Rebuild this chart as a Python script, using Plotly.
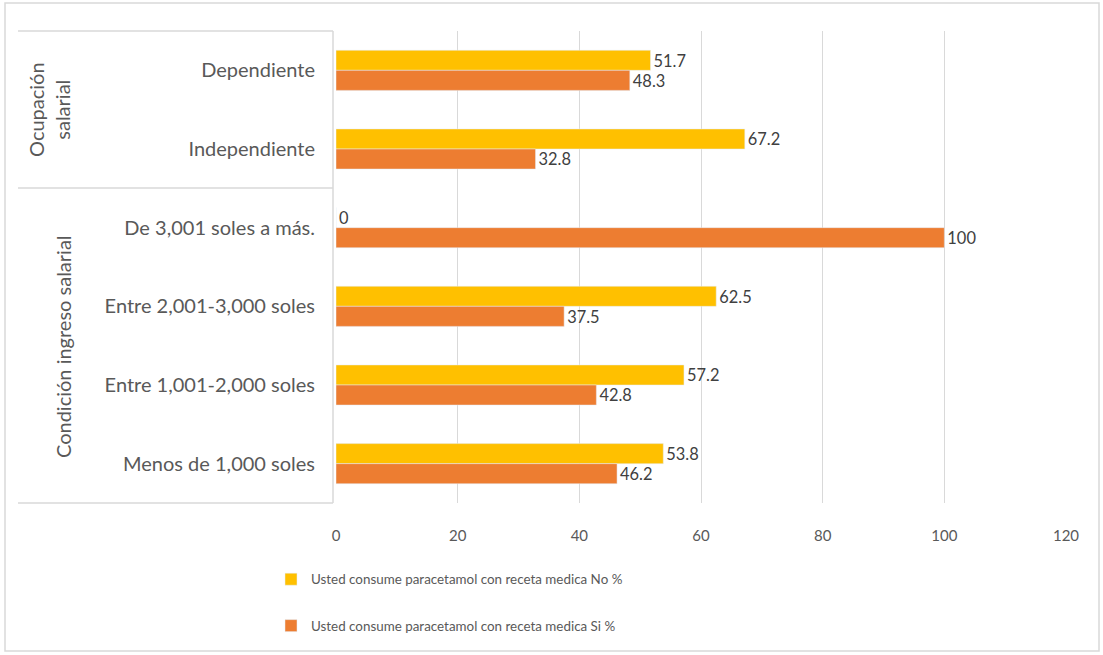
import plotly.graph_objects as go

categories = ["Dependiente", "Independiente", "De 3,001 soles a más.",
              "Entre 2,001-3,000 soles", "Entre 1,001-2,000 soles", "Menos de 1,000 soles"]
no_values = [51.7, 67.2, 0, 62.5, 57.2, 53.8]
si_values = [48.3, 32.8, 100, 37.5, 42.8, 46.2]
series_names = ["Usted consume paracetamol con receta medica No %",
                "Usted consume paracetamol con receta medica Si %"]
group_labels = ["Ocupación<br>salarial", "Condición ingreso salarial"]
x_ticks = [0, 20, 40, 60, 80, 100, 120]

W, H = 1103, 655
L, R, T, B = 336, 37, 31, 152
pw, ph = W - L - R, H - T - B

def px(x):
    return (x - L) / pw

def py(y):
    return (H - B - y) / ph

FONT = "Lato"
GRID = "#D9D9D9"
TXT = "#595959"

fig = go.Figure()
fig.add_trace(go.Bar(y=categories, x=no_values, orientation="h", name=series_names[0],
                     marker_color="#FFC000", text=no_values, texttemplate="%{x}",
                     textposition="outside", cliponaxis=False,
                     textfont=dict(size=18, color="#404040", family=FONT),
                     legendgroup="a"))
fig.add_trace(go.Bar(y=categories, x=si_values, orientation="h", name=series_names[1],
                     marker_color="#ED7D31", text=si_values, texttemplate="%{x}",
                     textposition="outside", cliponaxis=False,
                     textfont=dict(size=18, color="#404040", family=FONT),
                     legendgroup="b"))

line = dict(color=GRID, width=1.5)
shapes = [
    dict(type="rect", xref="paper", yref="paper", x0=px(5), x1=px(1099), y0=py(3), y1=py(651),
         line=line, layer="below"),
    dict(type="line", xref="paper", yref="paper", x0=px(18), x1=px(333), y0=py(31), y1=py(31), line=line),
    dict(type="line", xref="paper", yref="paper", x0=px(18), x1=px(333), y0=py(188), y1=py(188), line=line),
    dict(type="line", xref="paper", yref="paper", x0=px(18), x1=px(333), y0=py(503), y1=py(503), line=line),
    dict(type="line", xref="paper", yref="paper", x0=px(333), x1=px(333), y0=py(31), y1=py(503), line=line),
]

annotations = [
    dict(text=group_labels[0], xref="paper", yref="paper", x=px(49), y=py(110),
         xanchor="center", yanchor="middle",
         showarrow=False, textangle=-90, font=dict(size=20, color=TXT, family=FONT)),
    dict(text=group_labels[1], xref="paper", yref="paper", x=px(63), y=py(347),
         xanchor="center", yanchor="middle",
         showarrow=False, textangle=-90, font=dict(size=20, color=TXT, family=FONT)),
]

fig.update_layout(
    width=W, height=H,
    margin=dict(l=L, r=R, t=T, b=B, autoexpand=False),
    paper_bgcolor="white", plot_bgcolor="white",
    barmode="group", bargap=0.49, bargroupgap=0,
    font=dict(family=FONT, color=TXT, size=15),
    shapes=shapes, annotations=annotations,
    legend=dict(orientation="v", x=px(271), y=py(564), xanchor="left", yanchor="top",
                font=dict(size=13.4, color=TXT, family=FONT),
                traceorder="grouped", tracegroupgap=26, itemwidth=30,
                bgcolor="rgba(0,0,0,0)"),
    xaxis=dict(range=[0, 120], tickvals=x_ticks, showgrid=True, gridcolor=GRID,
               gridwidth=1, zeroline=False, showline=False, ticks="",
               ticklabelstandoff=22, tickfont=dict(size=15, color=TXT, family=FONT)),
    yaxis=dict(autorange="reversed", categoryorder="array", categoryarray=categories,
               showgrid=False, zeroline=False, showline=False, ticks="",
               ticklabelstandoff=20, tickfont=dict(size=20, color=TXT, family=FONT)),
)

fig.write_html("out.html", config={"displayModeBar": False},
               post_script="document.body.style.margin='0';")
